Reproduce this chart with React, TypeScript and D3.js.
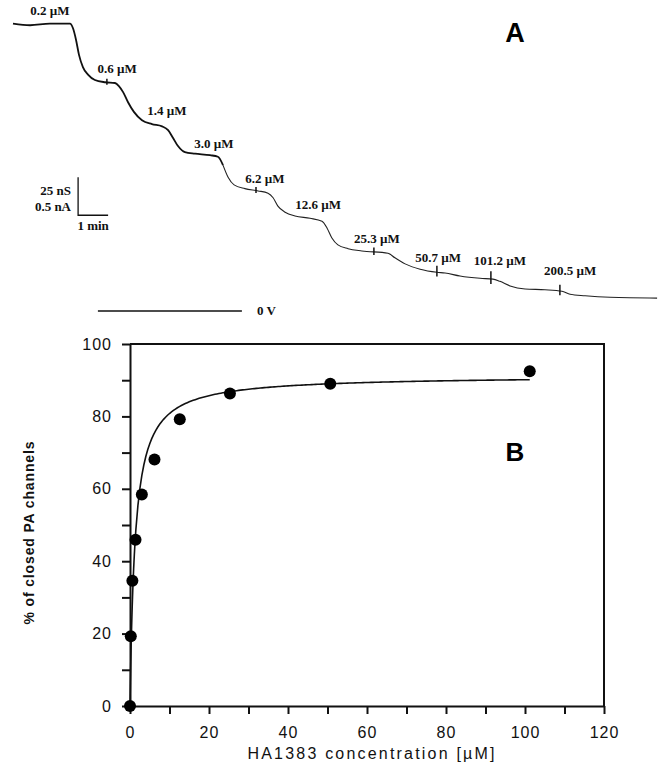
import React, { useEffect, useRef } from "react";
import * as d3 from "d3";

// Panel A: current trace, time in min, current in nA (0 = the 0 V line)
const traceT = [0, 0.57, 1.23, 1.9, 2.0, 2.1, 2.2, 2.33, 2.5, 2.73, 3.07, 3.4, 3.53, 3.67, 3.83, 4.03, 4.3, 4.63, 4.97, 5.17, 5.33, 5.5, 5.73, 6.07, 6.57, 6.83, 7.0, 7.17, 7.37, 7.73, 8.17, 8.5, 8.67, 8.83, 9.07, 9.4, 9.9, 10.3, 10.47, 10.63, 10.83, 11.17, 11.63, 12.5, 12.73, 13.07, 13.57, 14.13, 14.4, 14.9, 15.57, 16.0, 16.23, 16.57, 17.07, 17.73, 18.3, 18.57, 19.07, 19.9, 21.47];
const traceI = [3.78, 3.76, 3.78, 3.78, 3.72, 3.57, 3.37, 3.21, 3.11, 3.04, 3.01, 3.0, 2.96, 2.88, 2.75, 2.62, 2.51, 2.46, 2.43, 2.38, 2.28, 2.17, 2.09, 2.07, 2.05, 2.03, 1.92, 1.76, 1.66, 1.61, 1.58, 1.55, 1.49, 1.38, 1.3, 1.25, 1.22, 1.18, 1.09, 0.96, 0.87, 0.82, 0.79, 0.76, 0.7, 0.62, 0.55, 0.51, 0.5, 0.46, 0.43, 0.42, 0.39, 0.33, 0.29, 0.28, 0.26, 0.22, 0.2, 0.18, 0.17];

// concentration labels and where they sit (time of label centre, current of baseline)
const doseLabels = ["0.2 µM", "0.6 µM", "1.4 µM", "3.0 µM", "6.2 µM", "12.6 µM", "25.3 µM", "50.7 µM", "101.2 µM", "200.5 µM"];
const labelT = [1.23, 3.47, 5.13, 6.7, 8.4, 10.17, 12.13, 14.17, 16.23, 18.57];
const labelI = [3.89, 3.13, 2.58, 2.14, 1.68, 1.34, 0.89, 0.64, 0.61, 0.47];

// addition artefacts on the trace
const markT = [3.13, 8.1, 12.03, 14.13, 15.93, 18.23];
const markH = [0.08, 0.08, 0.1, 0.14, 0.17, 0.14];

// Panel B: dose response
const concB = [0, 0.2, 0.6, 1.4, 3.0, 6.2, 12.6, 25.3, 50.7, 101.2];
const closedB = [0, 19.3, 34.6, 45.9, 58.4, 68.1, 79.2, 86.3, 89.0, 92.5];
const fitMax = 91.3;
const fitKd = 1.3;

const xTicksB = [0, 20, 40, 60, 80, 100, 120];
const yTicksB = [0, 20, 40, 60, 80, 100];

const App = () => {
  const svgRef = useRef<SVGSVGElement>(null);

  useEffect(() => {
    document.body.style.margin = "0";
    const svg = d3.select(svgRef.current);
    svg.selectAll("*").remove();

    // ---------- panel A ----------
    const xA = d3.scaleLinear().domain([0, 1]).range([13, 43]); // 30 px per min
    const yA = d3.scaleLinear().domain([0, 0.5]).range([311, 273]); // 38 px per 0.5 nA

    const pts = traceT.map((t, i) => [t, traceI[i]] as [number, number]);
    const line = d3
      .line<[number, number]>()
      .x((d) => xA(d[0]))
      .y((d) => yA(d[1]))
      .curve(d3.curveMonotoneX);

    const split = traceT.indexOf(7.0);
    svg.append("path")
      .datum(pts.slice(0, split + 1))
      .attr("fill", "none")
      .attr("stroke", "#111")
      .attr("stroke-width", 1.8)
      .attr("d", line);
    svg.append("path")
      .datum(pts.slice(split))
      .attr("fill", "none")
      .attr("stroke", "#222")
      .attr("stroke-width", 1.1)
      .attr("d", line);

    // artefact ticks
    const interpI = (t: number) => {
      const j = d3.bisectLeft(traceT, t);
      const t0 = traceT[j - 1], t1 = traceT[j];
      return traceI[j - 1] + ((t - t0) / (t1 - t0)) * (traceI[j] - traceI[j - 1]);
    };
    markT.forEach((t, i) => {
      const v = interpI(t);
      svg.append("line")
        .attr("x1", xA(t)).attr("x2", xA(t))
        .attr("y1", yA(v + markH[i] * 0.6)).attr("y2", yA(v - markH[i] * 0.4))
        .attr("stroke", "#111").attr("stroke-width", 1.5);
    });

    svg.append("g")
      .selectAll("text")
      .data(doseLabels)
      .enter()
      .append("text")
      .attr("x", (d, i) => xA(labelT[i]))
      .attr("y", (d, i) => yA(labelI[i]))
      .attr("text-anchor", "middle")
      .attr("font-family", "'Liberation Serif', 'Times New Roman', serif")
      .attr("font-weight", "bold")
      .attr("font-size", 13)
      .attr("fill", "#111")
      .text((d) => d);

    // scale bar: 0.5 nA / 1 min
    const sbT = 2.17, sbI = 1.26;
    svg.append("path")
      .attr("d", `M${xA(sbT)},${yA(sbI + 0.5)}V${yA(sbI)}H${xA(sbT + 1)}`)
      .attr("fill", "none").attr("stroke", "#111").attr("stroke-width", 1.3);
    const serif = "'Liberation Serif', 'Times New Roman', serif";
    [["25 nS", 195], ["0.5 nA", 211]].forEach(([t, y]) => {
      svg.append("text").attr("x", 71).attr("y", y as number)
        .attr("text-anchor", "end").attr("font-family", serif)
        .attr("font-weight", "bold").attr("font-size", 13).attr("fill", "#111").text(t as string);
    });
    svg.append("text").attr("x", xA(sbT + 0.5)).attr("y", 230)
      .attr("text-anchor", "middle").attr("font-family", serif)
      .attr("font-weight", "bold").attr("font-size", 13).attr("fill", "#111").text("1 min");

    // 0 V reference
    svg.append("line")
      .attr("x1", xA(2.83)).attr("x2", xA(7.63))
      .attr("y1", yA(0)).attr("y2", yA(0))
      .attr("stroke", "#111").attr("stroke-width", 1.6);
    svg.append("text").attr("x", 257).attr("y", 315)
      .attr("font-family", serif).attr("font-weight", "bold")
      .attr("font-size", 13).attr("fill", "#111").text("0 V");

    svg.append("text").attr("x", 515).attr("y", 42).attr("text-anchor", "middle")
      .attr("font-family", "'Liberation Sans', Arial, sans-serif")
      .attr("font-weight", "bold").attr("font-size", 27).text("A");

    // ---------- panel B ----------
    const xB = d3.scaleLinear().domain([0, 120]).range([130, 604]);
    const yB = d3.scaleLinear().domain([0, 100]).range([706, 344]);
    const sans = "'Liberation Sans', Arial, sans-serif";

    const gx = svg.append("g").attr("transform", `translate(0,${yB(0)})`)
      .call(
        d3.axisBottom(xB)
          .tickValues(d3.range(0, 121, 10))
          .tickFormat((d) => (xTicksB.includes(+d) ? `${d}` : ""))
          .tickSize(8).tickSizeOuter(0).tickPadding(13)
      );
    const gy = svg.append("g").attr("transform", `translate(${xB(0)},0)`)
      .call(
        d3.axisLeft(yB)
          .tickValues(d3.range(0, 101, 10))
          .tickFormat((d) => (yTicksB.includes(+d) ? `${d}` : ""))
          .tickSize(8).tickSizeOuter(0).tickPadding(10)
      );
    [gx, gy].forEach((g) => {
      g.selectAll("path, line").attr("stroke", "#111").attr("stroke-width", 2);
      g.selectAll("text").attr("font-family", sans).attr("font-size", 16)
        .attr("letter-spacing", 1).attr("fill", "#111");
    });

    // box top and right
    svg.append("path")
      .attr("d", `M${xB(0)},${yB(100)}H${xB(120)}V${yB(0)}`)
      .attr("fill", "none").attr("stroke", "#111").attr("stroke-width", 2);

    // fitted curve
    const fitX = d3.range(0, 1.5, 0.02).concat(d3.range(1.5, 101.2, 0.5), [101.2]);
    const fitLine = d3.line<number>()
      .x((c) => xB(c))
      .y((c) => yB((fitMax * c) / (fitKd + c)));
    svg.append("path").datum(fitX)
      .attr("fill", "none").attr("stroke", "#111").attr("stroke-width", 1.6)
      .attr("d", fitLine);

    svg.append("g").selectAll("circle").data(concB).enter().append("circle")
      .attr("cx", (d) => xB(d))
      .attr("cy", (d, i) => yB(closedB[i]))
      .attr("r", 6)
      .attr("fill", "#000");

    svg.append("text").attr("x", 515).attr("y", 461).attr("text-anchor", "middle")
      .attr("font-family", sans).attr("font-weight", "bold").attr("font-size", 26).text("B");

    svg.append("text")
      .attr("transform", `translate(34,${(yB(0) + yB(100)) / 2 + 8}) rotate(-90)`)
      .attr("text-anchor", "middle")
      .attr("font-family", sans).attr("font-weight", "bold").attr("font-size", 14)
      .attr("textLength", 183).attr("lengthAdjust", "spacing")
      .attr("fill", "#111")
      .text("% of closed PA channels");

    svg.append("text")
      .attr("x", 371).attr("y", 759)
      .attr("text-anchor", "middle")
      .attr("font-family", sans).attr("font-size", 16)
      .attr("textLength", 247).attr("lengthAdjust", "spacing")
      .attr("fill", "#111")
      .text("HA1383 concentration [µM]");
  }, []);

  return <svg ref={svgRef} width={664} height={770} style={{ display: "block", background: "#fff" }}></svg>;
};

export default App;
